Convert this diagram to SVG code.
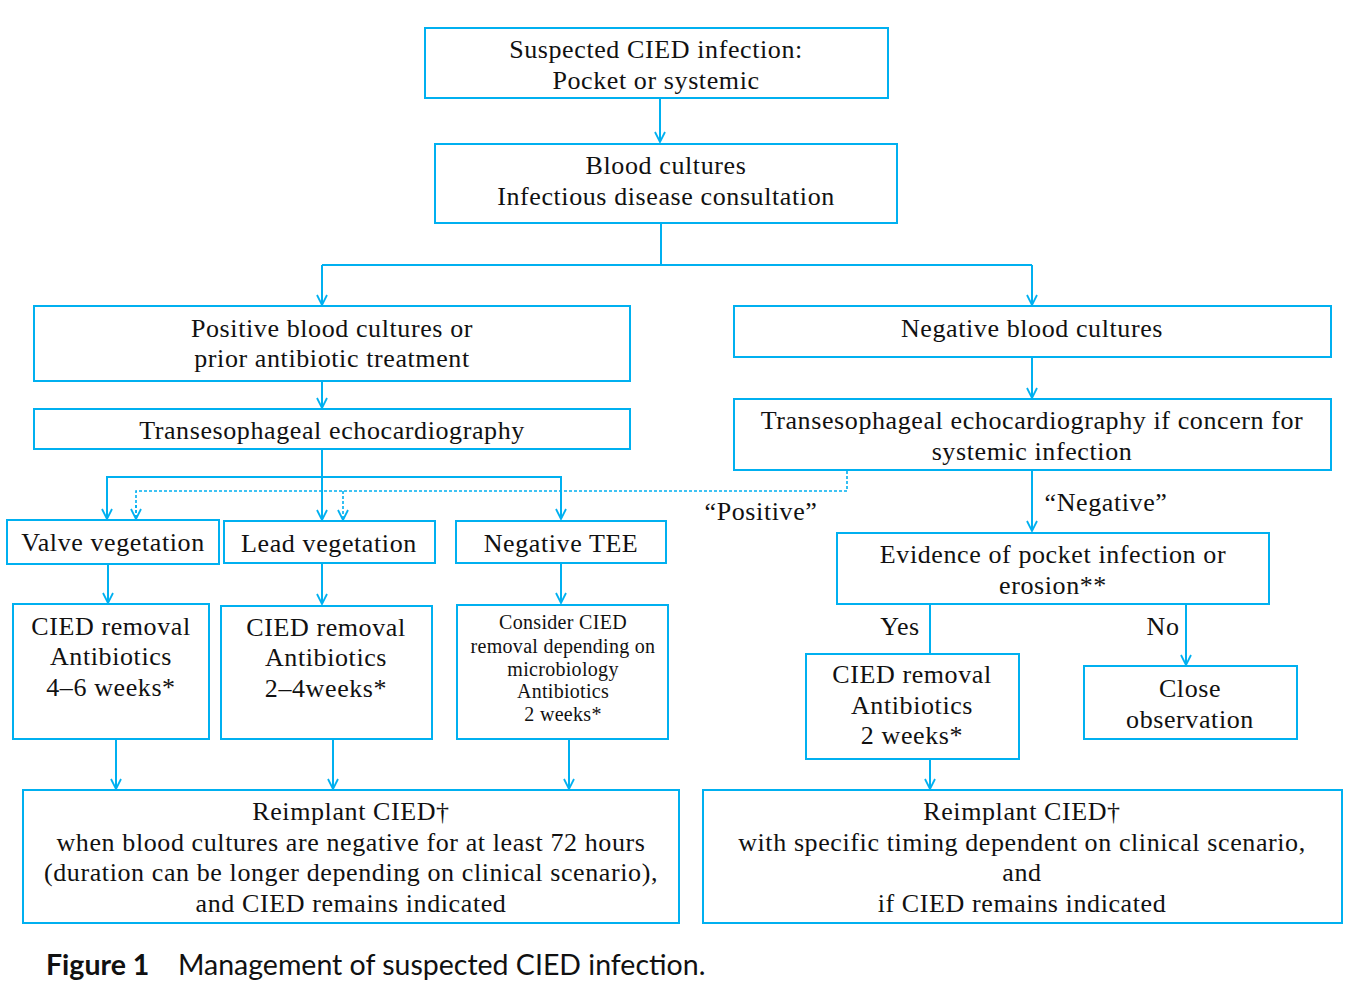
<svg xmlns="http://www.w3.org/2000/svg" width="1349" height="985" viewBox="0 0 1349 985">
<defs>
<marker id="ah" viewBox="0 0 12 12" refX="11" refY="6" markerWidth="12" markerHeight="12" markerUnits="userSpaceOnUse" orient="auto">
<path d="M1,1 L11,6 L1,11" fill="none" stroke="#00B0F0" stroke-width="1.8"/>
</marker>
</defs>
<style>
.box{fill:#fff;stroke:#00B0F0;stroke-width:2}
.t{font-family:"Liberation Serif","Times New Roman",serif;font-size:26px;letter-spacing:0.6px;fill:#111;text-anchor:middle}
.s{font-family:"Liberation Serif","Times New Roman",serif;font-size:20px;letter-spacing:0.3px;fill:#111;text-anchor:middle}
.c{stroke:#00B0F0;stroke-width:2;fill:none}
.d{stroke:#00B0F0;stroke-width:1.6;fill:none;stroke-dasharray:3,2}
.cap{font-family:Lato,"Open Sans","Liberation Sans",sans-serif;font-size:28.5px;fill:#111}
</style>
<rect width="1349" height="985" fill="#fff"/>
<g id="connectors">
<line class="c" x1="660" y1="98" x2="660" y2="142" marker-end="url(#ah)"/>
<polyline class="c" points="661,223 661,265"/>
<polyline class="c" points="322,265 1032,265"/>
<line class="c" x1="322" y1="265" x2="322" y2="305" marker-end="url(#ah)"/>
<line class="c" x1="1032" y1="265" x2="1032" y2="305" marker-end="url(#ah)"/>
<line class="c" x1="322" y1="381" x2="322" y2="408" marker-end="url(#ah)"/>
<line class="c" x1="1032" y1="357" x2="1032" y2="398" marker-end="url(#ah)"/>
<line class="c" x1="322" y1="449" x2="322" y2="520" marker-end="url(#ah)"/>
<polyline class="c" points="107,519 107,477 561,477 561,519"/>
<line class="c" x1="107" y1="500" x2="107" y2="519" marker-end="url(#ah)"/>
<line class="c" x1="561" y1="500" x2="561" y2="519" marker-end="url(#ah)"/>
<polyline class="d" points="847,471 847,491 136,491 136,519"/>
<line class="d" x1="136" y1="505" x2="136" y2="519" marker-end="url(#ah)"/>
<line class="d" x1="343" y1="491" x2="343" y2="520" marker-end="url(#ah)"/>
<line class="c" x1="1032" y1="470" x2="1032" y2="531" marker-end="url(#ah)"/>
<line class="c" x1="108" y1="564" x2="108" y2="603" marker-end="url(#ah)"/>
<line class="c" x1="322" y1="563" x2="322" y2="604" marker-end="url(#ah)"/>
<line class="c" x1="561" y1="563" x2="561" y2="603" marker-end="url(#ah)"/>
<line class="c" x1="116" y1="739" x2="116" y2="789" marker-end="url(#ah)"/>
<line class="c" x1="333" y1="739" x2="333" y2="789" marker-end="url(#ah)"/>
<line class="c" x1="569" y1="739" x2="569" y2="789" marker-end="url(#ah)"/>
<line class="c" x1="930" y1="604" x2="930" y2="654"/>
<line class="c" x1="1186" y1="604" x2="1186" y2="665" marker-end="url(#ah)"/>
<line class="c" x1="930" y1="759" x2="930" y2="789" marker-end="url(#ah)"/>
<text class="t" x="761" y="520">“Positive”</text>
<text class="t" x="1106" y="511">“Negative”</text>
<text class="t" x="900" y="635">Yes</text>
<text class="t" x="1163" y="635">No</text>
</g>
<g id="n1"><rect class="box" x="425" y="28" width="463" height="70"/>
<text class="t" x="656" y="58">Suspected CIED infection:</text><text class="t" x="656" y="89">Pocket or systemic</text></g>
<g id="n2"><rect class="box" x="435" y="144" width="462" height="79"/>
<text class="t" x="666" y="174">Blood cultures</text><text class="t" x="666" y="205">Infectious disease consultation</text></g>
<g id="n3"><rect class="box" x="34" y="306" width="596" height="75"/>
<text class="t" x="332" y="337">Positive blood cultures or</text><text class="t" x="332" y="367">prior antibiotic treatment</text></g>
<g id="n4"><rect class="box" x="34" y="409" width="596" height="40"/>
<text class="t" x="332" y="439">Transesophageal echocardiography</text></g>
<g id="n5"><rect class="box" x="734" y="306" width="597" height="51"/>
<text class="t" x="1032" y="337">Negative blood cultures</text></g>
<g id="n6"><rect class="box" x="734" y="399" width="597" height="71"/>
<text class="t" x="1032" y="429">Transesophageal echocardiography if concern for</text><text class="t" x="1032" y="460">systemic infection</text></g>
<g id="n7"><rect class="box" x="7" y="520" width="212" height="44"/>
<text class="t" x="113" y="551">Valve vegetation</text></g>
<g id="n8"><rect class="box" x="224" y="521" width="211" height="42"/>
<text class="t" x="329" y="552">Lead vegetation</text></g>
<g id="n9"><rect class="box" x="456" y="521" width="210" height="42"/>
<text class="t" x="561" y="552">Negative TEE</text></g>
<g id="n10"><rect class="box" x="13" y="604" width="196" height="135"/>
<text class="t" x="111" y="635">CIED removal</text><text class="t" x="111" y="665">Antibiotics</text><text class="t" x="111" y="696">4–6 weeks*</text></g>
<g id="n11"><rect class="box" x="221" y="606" width="211" height="133"/>
<text class="t" x="326" y="636">CIED removal</text><text class="t" x="326" y="666">Antibiotics</text><text class="t" x="326" y="697">2–4weeks*</text></g>
<g id="n12"><rect class="box" x="457" y="605" width="211" height="134"/>
<text class="s" x="563" y="629">Consider CIED</text><text class="s" x="563" y="653">removal depending on</text><text class="s" x="563" y="676">microbiology</text><text class="s" x="563" y="698">Antibiotics</text><text class="s" x="563" y="721">2 weeks*</text></g>
<g id="n13"><rect class="box" x="23" y="790" width="656" height="133"/>
<text class="t" x="351" y="820">Reimplant CIED†</text><text class="t" x="351" y="851">when blood cultures are negative for at least 72 hours</text><text class="t" x="351" y="881">(duration can be longer depending on clinical scenario),</text><text class="t" x="351" y="912">and CIED remains indicated</text></g>
<g id="n14"><rect class="box" x="837" y="533" width="432" height="71"/>
<text class="t" x="1053" y="563">Evidence of pocket infection or</text><text class="t" x="1053" y="594">erosion**</text></g>
<g id="n15"><rect class="box" x="806" y="654" width="213" height="105"/>
<text class="t" x="912" y="683">CIED removal</text><text class="t" x="912" y="714">Antibiotics</text><text class="t" x="912" y="744">2 weeks*</text></g>
<g id="n16"><rect class="box" x="1084" y="666" width="213" height="73"/>
<text class="t" x="1190" y="697">Close</text><text class="t" x="1190" y="728">observation</text></g>
<g id="n17"><rect class="box" x="703" y="790" width="639" height="133"/>
<text class="t" x="1022" y="820">Reimplant CIED†</text><text class="t" x="1022" y="851">with specific timing dependent on clinical scenario,</text><text class="t" x="1022" y="881">and</text><text class="t" x="1022" y="912">if CIED remains indicated</text></g>
<g id="caption"><text class="cap" x="46" y="975"><tspan font-weight="bold">Figure 1</tspan><tspan x="178">Management of suspected CIED infection.</tspan></text></g>
</svg>
